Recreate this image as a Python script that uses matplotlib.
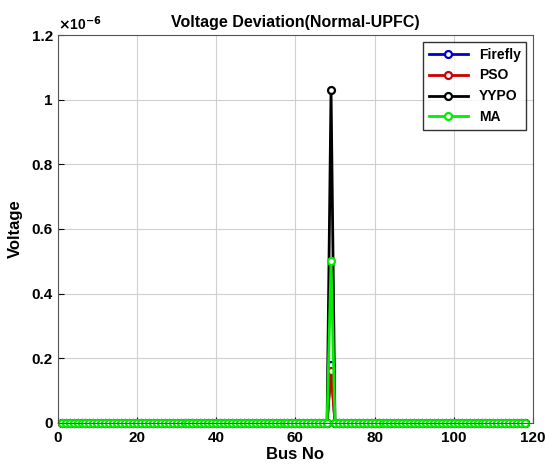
import numpy as np
import matplotlib
matplotlib.use("Agg")
import matplotlib.pyplot as plt
from matplotlib.ticker import FuncFormatter

plt.rcParams['font.family'] = ['Liberation Sans', 'DejaVu Sans']
plt.rcParams['font.weight'] = 'bold'

bus = np.arange(1, 119)
peak_bus = 69
firefly_peak = 0.18e-6
pso_peak = 0.16e-6
yypo_peak = 1.03e-6
ma_peak = 0.50e-6

def series(peak):
    v = np.zeros(len(bus))
    v[bus == peak_bus] = peak
    return v

firefly = series(firefly_peak)
pso = series(pso_peak)
yypo = series(yypo_peak)
ma = series(ma_peak)

fig = plt.figure(figsize=(5.45, 4.73), dpi=100)
ax = fig.add_axes([0.106, 0.106, 0.872, 0.82])

style = dict(marker='o', mfc='white', ms=5, mew=1.6, lw=2, clip_on=False)
ax.plot(bus, firefly, color='#0000cc', mec='#0000cc', label='Firefly', **style)
ax.plot(bus, pso, color='#cc0000', mec='#cc0000', label='PSO', **style)
ax.plot(bus, yypo, color='black', mec='black', label='YYPO', **style)
ax.plot(bus, ma, color='#00ee00', mec='#00ee00', label='MA', **style)

ax.set_xlim(0, 120)
ax.set_ylim(0, 1.2e-6)
ax.set_xticks(np.arange(0, 121, 20))
ax.set_yticks(np.arange(0, 1.21e-6, 0.2e-6))
ax.yaxis.set_major_formatter(FuncFormatter(lambda v, p: f'{v * 1e6:.1f}'.rstrip('0').rstrip('.')))
ax.grid(True, color='#d0d0d0', lw=0.8)
ax.tick_params(labelsize=11, direction='in', length=4)
ax.tick_params(axis='x', pad=6)
for s in ax.spines.values():
    s.set_color('#555555')
ax.set_xlabel('Bus No', fontsize=12, fontweight='bold', labelpad=1)
ax.set_ylabel('Voltage', fontsize=12, fontweight='bold', labelpad=6)
ax.set_title('Voltage Deviation(Normal-UPFC)', fontsize=11.5, fontweight='bold')
ax.text(0.0, 1.005, r'$\times$10$^{-6}$', transform=ax.transAxes, fontsize=10,
        ha='left', va='bottom')
leg = ax.legend(loc='upper right', fontsize=10, fancybox=False, edgecolor='black',
                handlelength=2.8, borderaxespad=0.5)
leg.get_frame().set_linewidth(1)

fig.savefig('out.png', dpi=100)
